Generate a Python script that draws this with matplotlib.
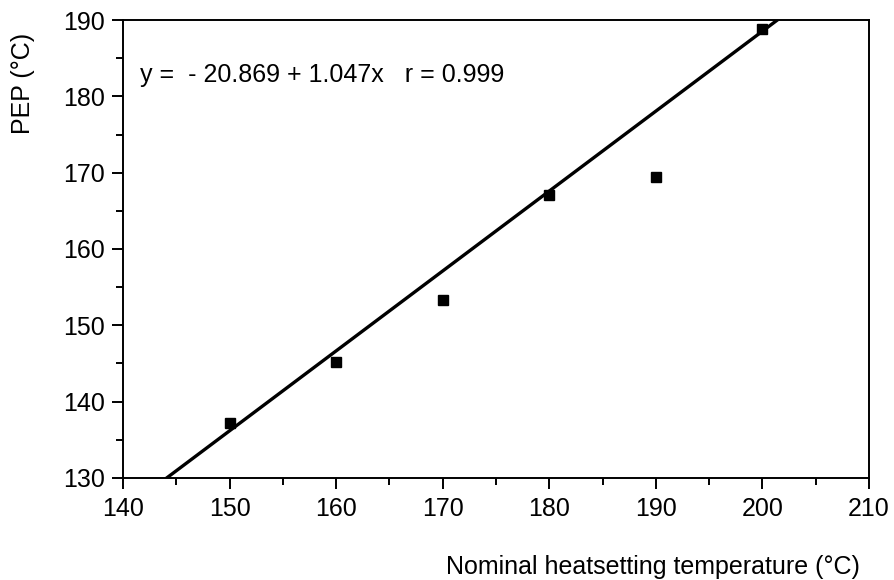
import numpy as np
import matplotlib.pyplot as plt
from matplotlib.ticker import MultipleLocator

# data
temp_nominal = [150, 160, 170, 180, 190, 200]
pep = [137.2, 145.2, 153.3, 167.1, 169.4, 188.8]

# regression line given in the chart
intercept = -20.869
slope = 1.047
r_value = 0.999

plt.rcParams['font.family'] = ['Liberation Sans', 'DejaVu Sans']

fig = plt.figure(figsize=(8.94, 5.80), dpi=100)
ax = fig.add_axes([0.1376, 0.1759, 0.8344, 0.7896])

# fitted line over the visible x range
x_fit = np.array([140, 210])
ax.plot(x_fit, intercept + slope * x_fit, color="black", linewidth=2.4,
        solid_capstyle="butt", zorder=2)

ax.plot(temp_nominal, pep, linestyle="none", marker="s", markersize=7,
        color="black", zorder=3, clip_on=False)

ax.set_xlim(140, 210)
ax.set_ylim(130, 190)
ax.xaxis.set_major_locator(MultipleLocator(10))
ax.xaxis.set_minor_locator(MultipleLocator(5))
ax.yaxis.set_major_locator(MultipleLocator(10))
ax.yaxis.set_minor_locator(MultipleLocator(5))

ax.tick_params(which="both", direction="out", top=False, right=False,
               width=1.4, labelsize=18)
ax.tick_params(which="major", length=8)
ax.tick_params(which="minor", length=5)
ax.tick_params(axis="x", pad=6)
ax.tick_params(axis="y", pad=5)

for spine in ax.spines.values():
    spine.set_linewidth(1.4)

ax.text(141.6, 182.8,
        f"y =  - {abs(intercept):.3f} + {slope:.3f}x   r = {r_value:.3f}",
        fontsize=18, ha="left", va="center")

ax.set_xlabel("Nominal heatsetting temperature (°C)", fontsize=18,
              ha="right", va="top")
ax.xaxis.set_label_coords(0.988, -0.168)

fig.text(23 / 894, 1 - 83 / 580, "PEP (°C)", rotation=90, fontsize=18,
         ha="center", va="center")

fig.savefig("out.png", dpi=100)
